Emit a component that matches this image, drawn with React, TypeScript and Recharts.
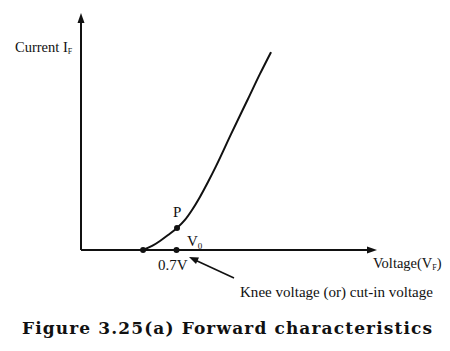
import { LineChart, Line, XAxis, YAxis, ReferenceLine, ReferenceDot } from "recharts";

// forward characteristic (volts, arbitrary current units)
const voltage = [0.455, 0.521, 0.579, 0.638, 0.704, 0.762, 0.814, 0.872, 0.931, 0.99, 1.1, 1.224, 1.312, 1.393];
const current = [0, 1.7, 3.8, 6.3, 9.3, 12.7, 16.9, 22.4, 28.7, 35.4, 48.9, 63.7, 74.3, 83.5];

const kneeStart = { v: 0.455, i: 0 };
const pointP = { v: 0.704, i: 9.3 };
const cutIn = { v: 0.7, i: 0 };

const X_MAX = 2.17;
const Y_MAX = 100;

const data = voltage.map((v, k) => ({ v, i: current[k] }));

const serif = "'Liberation Serif', 'Times New Roman', serif";
const ink = "#111";

const ArrowRight = (props: any) => {
  const { cx, cy } = props;
  return <polygon points={`${cx},${cy} ${cx - 10},${cy - 3.5} ${cx - 10},${cy + 3.5}`} fill={ink} />;
};

const ArrowUp = (props: any) => {
  const { cx, cy } = props;
  return <polygon points={`${cx},${cy} ${cx - 3.5},${cy + 10} ${cx + 3.5},${cy + 10}`} fill={ink} />;
};

export default function App() {
  return (
    <div style={{ position: "absolute", left: 0, top: 0, width: 450, height: 351, background: "#fff" }}>
      <LineChart
        width={450}
        height={351}
        data={data}
        margin={{ top: 13, right: 73, bottom: 101, left: 81 }}
        style={{ position: "absolute", left: 0, top: 0 }}
      >
        <XAxis type="number" dataKey="v" domain={[0, X_MAX]} hide />
        <YAxis type="number" domain={[0, Y_MAX]} hide />
        {/* axes */}
        <ReferenceLine segment={[{ x: 0, y: 0 }, { x: X_MAX - 0.03, y: 0 }]} stroke={ink} strokeWidth={2} />
        <ReferenceLine segment={[{ x: 0, y: 0 }, { x: 0, y: Y_MAX - 2 }]} stroke={ink} strokeWidth={2} />
        <ReferenceDot x={X_MAX} y={0} r={4} shape={ArrowRight} ifOverflow="visible" />
        <ReferenceDot x={0} y={Y_MAX} r={4} shape={ArrowUp} ifOverflow="visible" />
        <Line
          type="monotone"
          dataKey="i"
          stroke={ink}
          strokeWidth={2}
          dot={false}
          isAnimationActive={false}
        />
        <ReferenceDot x={kneeStart.v} y={kneeStart.i} r={3} fill={ink} stroke="none" ifOverflow="visible" />
        <ReferenceDot x={pointP.v} y={pointP.i} r={3} fill={ink} stroke="none" />
        <ReferenceDot x={cutIn.v} y={cutIn.i} r={3} fill={ink} stroke="none" ifOverflow="visible" />
      </LineChart>

      <svg
        width={450}
        height={351}
        style={{ position: "absolute", left: 0, top: 0, pointerEvents: "none" }}
        fontFamily={serif}
        fill={ink}
      >
        <text x={15} y={52} fontSize={14.5}>
          Current I<tspan fontSize={8} dy={2}>F</tspan>
        </text>
        <text x={173} y={217} fontSize={15}>P</text>
        <text x={187} y={246} fontSize={15}>
          V<tspan fontSize={9} dy={3}>0</tspan>
        </text>
        <text x={158} y={270} fontSize={15}>0.7V</text>
        <text x={373} y={268} fontSize={14.5}>
          Voltage(V<tspan fontSize={8} dy={2}>F</tspan>
          <tspan dy={-2}>)</tspan>
        </text>
        <line x1={234} y1={278} x2={195} y2={260} stroke={ink} strokeWidth={1.6} />
        <polygon points="189,257 199,257.5 196,264" fill={ink} />
        <text x={240} y={297} fontSize={15} textLength={193} lengthAdjust="spacingAndGlyphs">
          Knee voltage (or) cut-in voltage
        </text>
        <text
          x={22}
          y={334}
          fontSize={17}
          fontWeight="bold"
          fontFamily="'DejaVu Serif', serif"
          textLength={410}
          lengthAdjust="spacing"
        >
          Figure 3.25(a) Forward characteristics
        </text>
      </svg>
    </div>
  );
}
